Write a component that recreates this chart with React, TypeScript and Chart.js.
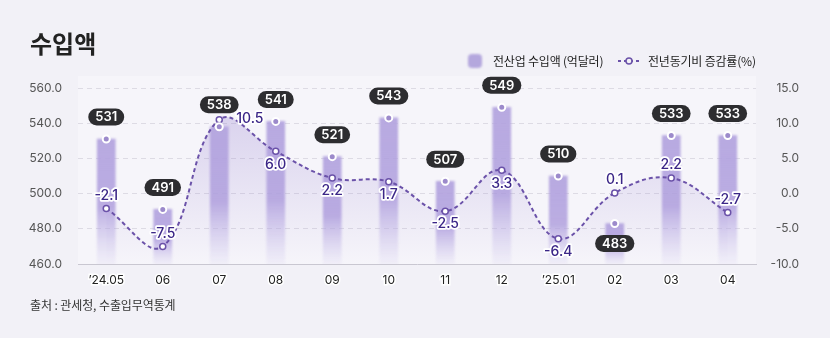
import React, { useEffect, useRef } from "react";
import { Chart, registerables } from "chart.js";

Chart.register(...registerables);

const categories = ["’24.05", "06", "07", "08", "09", "10", "11", "12", "’25.01", "02", "03", "04"];
const importValues = [531, 491, 538, 541, 521, 543, 507, 549, 510, 483, 533, 533];
const yoyRates = [-2.1, -7.5, 10.5, 6.0, 2.2, 1.7, -2.5, 3.3, -6.4, 0.1, 2.2, -2.7];
const leftAxisRange = [460, 560, 20];
const rightAxisRange = [-10, 15, 5];
const barLabelSide = ["top", "top", "top", "top", "top", "top", "top", "top", "top", "bottom", "top", "top"];
const rateLabelSide = ["top", "top", "right", "bottom", "bottom", "bottom", "bottom", "bottom", "bottom", "top", "top", "top"];

const FONT = 'Inter, "Noto Sans CJK KR", sans-serif';
const KFONT = '"Noto Sans CJK KR", Inter, sans-serif';

const bgPlugin = {
  id: "plotBg",
  beforeDraw(chart: any) {
    const { ctx, chartArea } = chart;
    if (!chartArea) return;
    ctx.save();
    ctx.fillStyle = "#f6f5fa";
    ctx.fillRect(chartArea.left, chartArea.top - 12, chartArea.right - chartArea.left, chartArea.bottom - chartArea.top + 12);
    ctx.restore();
  },
  beforeDatasetDraw(chart: any, args: any) {
    if (args.index === 0) {
      chart.ctx.save();
      chart.ctx.filter = "blur(0.8px)";
    }
  },
  afterDatasetDraw(chart: any, args: any) {
    if (args.index === 0) chart.ctx.restore();
  },
};

const labelPlugin = {
  id: "valueLabels",
  afterDatasetsDraw(chart: any) {
    const ctx = chart.ctx;
    ctx.save();
    const topsMeta = chart.getDatasetMeta(2);
    topsMeta.data.forEach((pt: any, i: number) => {
      const txt = String(importValues[i]);
      ctx.font = `600 13px ${FONT}`;
      const w = ctx.measureText(txt).width + 14;
      const h = 17;
      const cy = barLabelSide[i] === "bottom" ? pt.y + 20 : pt.y - 22;
      ctx.fillStyle = "#2d2d30";
      ctx.beginPath();
      ctx.roundRect(pt.x - w / 2, cy - h / 2, w, h, h / 2);
      ctx.fill();
      ctx.fillStyle = "#ffffff";
      ctx.textAlign = "center";
      ctx.textBaseline = "middle";
      ctx.fillText(txt, pt.x, cy + 0.5);
    });
    const lineMeta = chart.getDatasetMeta(1);
    lineMeta.data.forEach((pt: any, i: number) => {
      const txt = yoyRates[i].toFixed(1);
      ctx.font = `500 14px ${FONT}`;
      ctx.textBaseline = "middle";
      let x = pt.x;
      let y = pt.y;
      const side = rateLabelSide[i];
      if (side === "top") { ctx.textAlign = "center"; y -= 13; }
      else if (side === "bottom") { ctx.textAlign = "center"; y += 13; }
      else { ctx.textAlign = "left"; x += 17; y -= 1; }
      ctx.lineJoin = "round";
      ctx.lineWidth = 3.5;
      ctx.strokeStyle = "#ffffff";
      ctx.strokeText(txt, x, y);
      ctx.fillStyle = "#3b2687";
      ctx.fillText(txt, x, y);
    });
    ctx.restore();
  },
};

export default function App() {
  const ref = useRef<HTMLCanvasElement | null>(null);
  useEffect(() => {
    if (!ref.current) return;
    const chart = new Chart(ref.current, {
      type: "bar",
      data: {
        labels: categories,
        datasets: [
          {
            type: "bar",
            label: "전산업 수입액 (억달러)",
            data: importValues,
            yAxisID: "y",
            order: 2,
            barThickness: 18,
            backgroundColor: (c: any) => {
              const ch = c.chart;
              const area = ch.chartArea;
              if (!area || c.dataIndex === undefined) return "#b5a6dd";
              const y = ch.scales.y.getPixelForValue(importValues[c.dataIndex]);
              const g = ch.ctx.createLinearGradient(0, y, 0, area.bottom);
              g.addColorStop(0, "rgba(180,165,223,0.95)");
              g.addColorStop(0.55, "rgba(172,155,220,0.8)");
              g.addColorStop(1, "rgba(205,196,238,0.12)");
              return g;
            },
            borderWidth: 0,
          } as any,
          {
            type: "line",
            label: "전년동기비 증감률(%)",
            data: yoyRates,
            yAxisID: "y1",
            order: 1,
            borderColor: "#6b52a9",
            borderWidth: 2,
            borderDash: [4, 3],
            tension: 0.4,
            pointRadius: 3,
            pointBackgroundColor: "#ffffff",
            pointBorderColor: "#6b52a9",
            pointBorderWidth: 1.5,
            fill: "start",
            backgroundColor: (c: any) => {
              const area = c.chart.chartArea;
              if (!area) return "rgba(160,140,210,0.2)";
              const g = c.chart.ctx.createLinearGradient(0, area.top, 0, area.bottom);
              g.addColorStop(0, "rgba(150,128,208,0.35)");
              g.addColorStop(1, "rgba(150,128,208,0.0)");
              return g;
            },
          } as any,
          {
            type: "line",
            label: "tops",
            data: importValues,
            yAxisID: "y",
            order: 0,
            showLine: false,
            pointRadius: 3.5,
            pointBackgroundColor: "#9c8acb",
            pointBorderColor: "#ffffff",
            pointBorderWidth: 2,
          } as any,
        ],
      },
      options: {
        responsive: false,
        animation: false,
        layout: { padding: { top: 88, right: 31, bottom: 0, left: 0 } },
        plugins: {
          legend: { display: false },
          title: { display: false },
          tooltip: { enabled: false },
          filler: { drawTime: "beforeDatasetsDraw" },
        } as any,
        scales: {
          x: {
            grid: { display: false, drawTicks: false },
            border: { display: true, color: "#c9c7d1", width: 1 },
            ticks: {
              color: "#222222",
              font: { family: FONT, size: 12 },
              padding: 9,
              textStrokeColor: "#ffffff",
              textStrokeWidth: 3,
            } as any,
            afterFit: (s: any) => { s.height = 74; },
          },
          y: {
            position: "left",
            min: leftAxisRange[0],
            max: leftAxisRange[1],
            grid: { color: "#dddbe4", lineWidth: 1, drawTicks: false },
            border: { display: false, dash: [5, 4] },
            ticks: {
              stepSize: leftAxisRange[2],
              color: "#555555",
              font: { family: FONT, size: 12 },
              padding: 16,
              callback: (v: any) => Number(v).toFixed(1),
            },
            afterFit: (s: any) => { s.width = 78; },
          },
          y1: {
            position: "right",
            min: rightAxisRange[0],
            max: rightAxisRange[1],
            grid: { display: false, drawTicks: false },
            border: { display: false },
            ticks: {
              stepSize: rightAxisRange[2],
              color: "#555555",
              font: { family: FONT, size: 12 },
              crossAlign: "far",
              callback: (v: any) => Number(v).toFixed(1),
            },
            afterFit: (s: any) => { s.width = 43; },
          },
        },
      },
      plugins: [bgPlugin, labelPlugin],
    } as any);
    return () => chart.destroy();
  }, []);

  return (
    <div style={{ position: "fixed", left: 0, top: 0, width: 830, height: 338, background: "#f2f1f7", overflow: "hidden" }}>
      <canvas ref={ref} width={830} height={338} style={{ position: "absolute", left: 0, top: 0, width: 830, height: 338 }} />
      <div style={{ position: "absolute", left: 30, top: 29, fontFamily: KFONT, fontSize: 24, fontWeight: 700, lineHeight: "28px", color: "#222" }}>수입액</div>
      <div style={{ position: "absolute", left: 468, top: 54, width: 14, height: 14, borderRadius: 4, background: "#b4a7dd", filter: "blur(1px)" }} />
      <div style={{ position: "absolute", left: 493, top: 53, fontFamily: KFONT, fontSize: 12, lineHeight: "16px", letterSpacing: "-0.2px", color: "#222", whiteSpace: "nowrap" }}>전산업 수입액 (억달러)</div>
      <svg style={{ position: "absolute", left: 617, top: 56 }} width={24} height={10}>
        <line x1={1} y1={5} x2={23} y2={5} stroke="#6b52a9" strokeWidth={2} strokeDasharray="3 3" />
        <circle cx={12} cy={5} r={3} fill="#f2f1f7" stroke="#6b52a9" strokeWidth={1.5} />
      </svg>
      <div style={{ position: "absolute", left: 648, top: 53, fontFamily: KFONT, fontSize: 12, lineHeight: "16px", letterSpacing: "-0.2px", color: "#222", whiteSpace: "nowrap" }}>전년동기비 증감률(%)</div>
      <div style={{ position: "absolute", left: 30, top: 297, fontFamily: KFONT, fontSize: 12, lineHeight: "16px", letterSpacing: "-0.1px", color: "#333", whiteSpace: "nowrap" }}>출처 : 관세청, 수출입무역통계</div>
    </div>
  );
}
